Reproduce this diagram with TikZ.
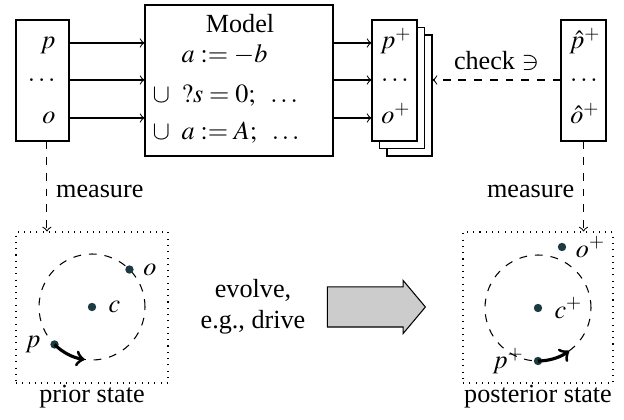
\documentclass[tikz,border=0pt]{standalone}
\usepackage{mathptmx}
\usepackage{fontspec}
\setmainfont{Liberation Serif}
\usetikzlibrary{shapes.arrows,calc}
\definecolor{puntocol}{HTML}{1B3A42}

\begin{document}
\begin{tikzpicture}[x=0.382pt,y=0.382pt,
    caja/.style={draw,fill=white,inner sep=0pt,minimum width=45*0.382pt,minimum height=121*0.382pt},
    marco/.style={draw,dotted,inner sep=0pt,minimum height=151*0.382pt},
    punto/.style={circle,fill=puntocol,inner sep=0pt,minimum size=3.2pt},
    val/.style={inner sep=0pt}]
      \useasboundingbox (0,0) rectangle (624,420);
      % Filas de las flechas
      \coordinate (r1) at (0,377);
      \coordinate (r2) at (0,340);
      \coordinate (r3) at (0,302);
      % Caja de entrada
      \node[caja,minimum width=53*0.382pt] (in) at (42.5,339.5) {};
      \node[val,anchor=mid east]  (pin) at (56,377) {$p$};
      \node[val,anchor=base east] (din) at (56,338) {$\dots$};
      \node[val,anchor=mid east]  (oin) at (56,302) {$o$};
      % Modelo
      \node[caja,minimum width=188*0.382pt,minimum height=151*0.382pt] (model) at (239,339.5) {};
      \node[val,anchor=base]      (mtit) at (240,387) {Model};
      \node[val,anchor=base west] (m1) at (152,357) {$\phantom{\cup}\;\;a := -b$};
      \node[val,anchor=base west] (m2) at (152,317) {$\cup\;\;?s = 0;\;\;\dots$};
      \node[val,anchor=base west] (m3) at (152,280) {$\cup\;\;a := A;\;\;\dots$};
      % Salidas (tres copias)
      \node[caja] (outc) at (409.5,324.5) {};
      \node[caja] (outb) at (402,332) {};
      \node[caja] (out)  at (394.5,339.5) {};
      \node[val,anchor=mid]  (pout) at (396,377) {$p^+$};
      \node[val,anchor=base] (dout) at (395,338) {$\dots$};
      \node[val,anchor=mid]  (oout) at (396,302) {$o^+$};
      % Caja medida
      \node[caja] (meas) at (583.5,339.5) {};
      \node[val,anchor=mid]  (pmeas) at (585,377) {$\hat{p}^+$};
      \node[val,anchor=base] (dmeas) at (584,338) {$\dots$};
      \node[val,anchor=mid]  (omeas) at (585,302) {$\hat{o}^+$};
      % Flechas arriba
      \draw[->] (in.east |- r1) -- (model.west |- r1);
      \draw[->] (in.east |- r2) -- (model.west |- r2);
      \draw[->] (in.east |- r3) -- (model.west |- r3);
      \draw[->] (model.east |- r1) -- (out.west |- r1);
      \draw[->] (model.east |- r2) -- (out.west |- r2);
      \draw[->] (model.east |- r3) -- (out.west |- r3);
      \draw[->,dashed] (meas.west |- r2) -- node[above] {check $\ni$} (outc.east |- r2);
      % Estados
      \node[marco,minimum width=152*0.382pt] (prior) at (92,112.5) {};
      \node[marco,minimum width=150*0.382pt] (post)  at (538,112.5) {};
      \draw[->,dashed] ([xshift=1.7pt]in.south) -- node[right,pos=0.55] {measure} ([xshift=1.7pt]in.south |- prior.north);
      \draw[->,dashed] (meas.south) -- node[left,pos=0.55] {measure} (meas.south |- post.north);
      \node[anchor=base] (tprior) at (92,17) {prior state};
      \node[anchor=base] (tpost)  at (538,17) {posterior state};
      % Estado previo
      \node[punto,label={[label distance=1pt]right:$c$}] (c) at (92,113) {};
      \draw[dashed] (c.center) circle[radius=53];
      \node[punto,label={[label distance=0pt]right:$o$}] (odot) at ($(c)+(45:53)$) {};
      \node[punto,label={[label distance=0pt]left:$p$}]  (pdot) at ($(c)+(225:53)$) {};
      \draw[->,line width=1.2pt] (pdot.center) arc[start angle=225,end angle=262,radius=53];
      % Estado posterior
      \node[punto,label={[label distance=1pt]right:$c^+$}] (cp) at (538,112) {};
      \draw[dashed] (cp.center) circle[radius=53];
      \node[punto,label={[label distance=0pt]right:$o^+$}] (opdot) at (562,173) {};
      \node[punto,label={[label distance=0pt]left:$p^+$}]  (ppdot) at ($(cp)+(270:53)$) {};
      \draw[->,line width=1.2pt] (ppdot.center) arc[start angle=270,end angle=306,radius=53];
      % Evolucion
      \node[align=center] (tevo) at (253,113) {evolve,\\ e.g., drive};
      \node[single arrow,draw,fill=gray!40,inner xsep=0pt,inner ysep=7.45pt,minimum height=98*0.382pt,
            single arrow head extend=2.5pt,single arrow tip angle=100] (evo) at (368,113) {};
    \end{tikzpicture}
\end{document}
